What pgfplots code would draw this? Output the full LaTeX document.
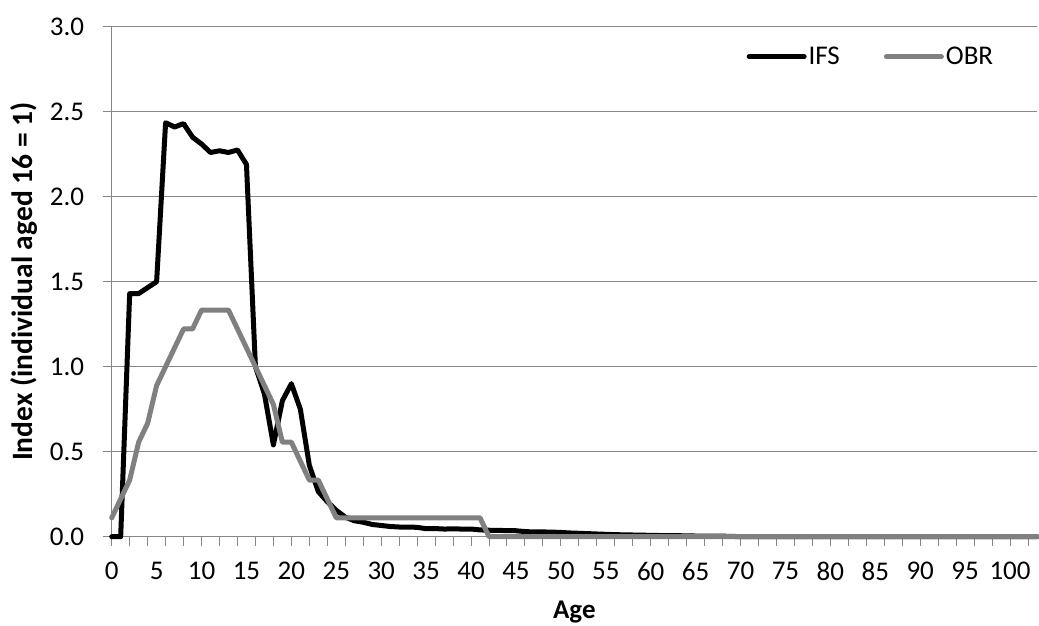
\documentclass[border=0pt]{standalone}
\usepackage{pgfplots}
\pgfplotsset{compat=1.18}
\usepackage{fontspec}
\setmainfont{Carlito}
\definecolor{gridgray}{RGB}{134,134,134}
\definecolor{obrgray}{RGB}{128,128,128}
\begin{document}
\begin{tikzpicture}
\useasboundingbox (-111.7pt,-89.3pt) rectangle (927.3pt,536.7pt);
\begin{axis}[
  at={(0pt,0pt)}, anchor=south west,
  scale only axis, width=925.3pt, height=510pt,
  xmin=0, xmax=103, ymin=0, ymax=3,
  axis x line=bottom, axis y line=left,
  axis line style={-, draw=gridgray, line width=1pt},
  ytick={0,0.5,...,3.0},
  yticklabel style={xshift=-15pt, /pgf/number format/.cd, fixed, fixed zerofill, precision=1},
  /pgf/number format/assume math mode=true,
  ymajorgrids, grid style={draw=gridgray, line width=1pt},
  tick align=outside, major tick length=9pt,
  tick style={draw=gridgray, line width=1pt},
  xtick={0,2,...,102}, xticklabels={},
  extra x ticks={0,5,...,100},
  extra x tick labels={0,5,10,15,20,25,30,35,40,45,50,55,60,65,70,75,80,85,90,95,100},
  extra x tick style={major tick length=0pt, grid=none, xticklabel style={yshift=-22pt}},
  tick label style={font=\fontsize{27}{32}\selectfont, text=black},
  xlabel={\textbf{Age}}, ylabel={\textbf{Index (individual aged 16 = 1)}},
  xlabel style={font=\fontsize{27}{32}\selectfont, yshift=-4pt},
  ylabel style={font=\fontsize{29.5}{34}\selectfont, yshift=6pt},
  legend columns=2,
  legend style={draw=none, fill=none, at={(0.686,0.941)}, anchor=west, inner sep=0pt,
    font=\fontsize{27}{32}\selectfont,
    /tikz/every even column/.append style={column sep=42pt}},
  legend image code/.code={\draw[#1] (0pt,0pt) -- (55pt,0pt);},
  every axis plot/.append style={line width=5pt, line cap=round, line join=round},
  clip=false,
]
\addplot[black] coordinates {
(0,0) (1,0) (2,1.43) (3,1.43) (4,1.465) (5,1.50) (6,2.435) (7,2.41) (8,2.43) (9,2.35)
(10,2.31) (11,2.26) (12,2.27) (13,2.26) (14,2.275) (15,2.19) (16,1.0) (17,0.84) (18,0.54) (19,0.80)
(20,0.90) (21,0.75) (22,0.42) (23,0.265) (24,0.206) (25,0.155) (26,0.115) (27,0.094) (28,0.085) (29,0.072)
(30,0.066) (31,0.06) (32,0.057) (33,0.057) (34,0.055) (35,0.047) (36,0.048) (37,0.045) (38,0.046) (39,0.045)
(40,0.045) (41,0.04) (42,0.038) (43,0.037) (44,0.036) (45,0.035) (46,0.03) (47,0.028) (48,0.028) (49,0.027)
(50,0.025) (51,0.022) (52,0.02) (53,0.018) (54,0.016) (55,0.014) (56,0.012) (57,0.011) (58,0.01) (59,0.009)
(60,0.008) (61,0.007) (62,0.006) (63,0.006) (64,0.005) (65,0.004) (66,0.004) (67,0.003) (68,0.003) (69,0.002)
(70,0) (80,0) (90,0) (103,0)
};
\addlegendentry{IFS}
\addplot[obrgray] coordinates {
(0,0.111) (1,0.222) (2,0.333) (3,0.556) (4,0.667) (5,0.889) (6,1.0) (7,1.111) (8,1.222) (9,1.222)
(10,1.333) (11,1.333) (12,1.333) (13,1.333) (14,1.222) (15,1.111) (16,1.0) (17,0.889) (18,0.778) (19,0.556)
(20,0.556) (21,0.444) (22,0.333) (23,0.333) (24,0.222) (25,0.111) (26,0.111) (30,0.111) (35,0.111) (40,0.111)
(41,0.111) (42,0) (50,0) (60,0) (70,0) (80,0) (90,0) (103,0)
};
\addlegendentry{OBR}
\end{axis}
\end{tikzpicture}
\end{document}
